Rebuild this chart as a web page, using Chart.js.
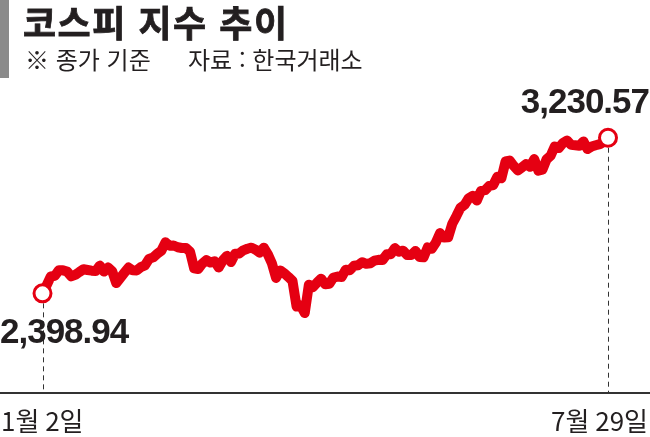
<!DOCTYPE html>
<html lang="ko">
<head>
<meta charset="utf-8">
<script src="https://cdn.jsdelivr.net/npm/chart.js@4.4.1/dist/chart.umd.min.js"></script>
<style>
    html, body { margin: 0; padding: 0; background: #fff; }
    #wrap { position: relative; width: 650px; height: 437px; overflow: hidden; }
    #chartBox { position: absolute; left: 0; top: 0; width: 650px; height: 437px; }
    #bar { position: absolute; left: 0; top: 0; width: 9px; height: 78px; background: #8a8a8a; }
    .txt { position: absolute; font-family: "Noto Sans CJK KR", sans-serif; line-height: 1; color: #231f20; white-space: pre; z-index: 2; }
    #title { left: 23px; top: 3px; font-size: 36px; font-weight: 700; letter-spacing: 1.5px; -webkit-text-stroke: 0.8px #231f20; }
    #sub1 { left: 25px; top: 47px; font-size: 24px; }
    #sub2 { left: 188px; top: 47px; font-size: 24px; }
</style>
</head>
<body>
<div id="wrap">
    <div id="chartBox"><canvas id="myChart"></canvas></div>
    <div id="bar"></div>
    <div class="txt" id="title">코스피 지수 추이</div>
    <div class="txt" id="sub1">※ 종가 기준</div>
    <div class="txt" id="sub2">자료 : 한국거래소</div>
</div>
<script>
// trading days, 2025
const dates = [
    '1/2', '1/3', '1/6', '1/7', '1/8', '1/9', '1/10', '1/13', '1/14', '1/15', '1/16', '1/17', '1/20', '1/21', '1/22', '1/23', '1/24', '1/31',
    '2/3', '2/4', '2/5', '2/6', '2/7', '2/10', '2/11', '2/12', '2/13', '2/14', '2/17', '2/18', '2/19', '2/20', '2/21', '2/24', '2/25', '2/26', '2/27', '2/28',
    '3/4', '3/5', '3/6', '3/7', '3/10', '3/11', '3/12', '3/13', '3/14', '3/17', '3/18', '3/19', '3/20', '3/21', '3/24', '3/25', '3/26', '3/27', '3/28', '3/31',
    '4/1', '4/2', '4/3', '4/4', '4/7', '4/8', '4/9', '4/10', '4/11', '4/14', '4/15', '4/16', '4/17', '4/18', '4/21', '4/22', '4/23', '4/24', '4/25', '4/28', '4/29', '4/30',
    '5/2', '5/7', '5/8', '5/9', '5/12', '5/13', '5/14', '5/15', '5/16', '5/19', '5/20', '5/21', '5/22', '5/23', '5/26', '5/27', '5/28', '5/29', '5/30',
    '6/2', '6/4', '6/5', '6/9', '6/10', '6/11', '6/12', '6/13', '6/16', '6/17', '6/18', '6/19', '6/20', '6/23', '6/24', '6/25', '6/26', '6/27', '6/30',
    '7/1', '7/2', '7/3', '7/4', '7/7', '7/8', '7/9', '7/10', '7/11', '7/14', '7/15', '7/16', '7/17', '7/18', '7/21', '7/22', '7/23', '7/24', '7/25', '7/28', '7/29'
]

// closing index
const kospi = [
    2398.94, 2441.92, 2488.64, 2492.10, 2521.90, 2521.90, 2515.78, 2489.56, 2497.40, 2513.04, 2527.49, 2523.55, 2520.05, 2518.03, 2547.06, 2515.36, 2536.80, 2517.37,
    2453.95, 2481.69, 2509.27, 2536.75, 2521.92, 2521.27, 2539.05, 2548.39, 2583.17, 2591.05, 2610.42, 2626.81, 2671.52, 2653.29, 2654.58, 2645.27, 2641.09, 2641.50, 2621.75, 2532.78,
    2528.85, 2558.13, 2576.16, 2563.48, 2570.39, 2537.60, 2574.82, 2599.16, 2566.36, 2610.69, 2612.34, 2628.62, 2637.10, 2643.13, 2632.19, 2616.80, 2643.13, 2607.15, 2557.98, 2481.12,
    2521.39, 2505.86, 2486.70, 2465.42, 2328.20, 2334.23, 2293.70, 2445.06, 2432.72, 2455.89, 2477.41, 2447.34, 2450.15, 2483.42, 2488.42, 2486.64, 2525.56, 2522.33, 2546.30, 2548.86, 2565.42, 2556.61,
    2559.79, 2573.80, 2578.30, 2577.27, 2607.33, 2608.42, 2640.57, 2621.01, 2626.87, 2603.42, 2603.80, 2625.58, 2593.67, 2592.09, 2644.40, 2637.22, 2670.24, 2720.64, 2697.67,
    2698.97, 2770.84, 2812.05, 2855.77, 2871.85, 2907.04, 2920.03, 2894.62, 2946.66, 2950.30, 2972.74, 2977.74, 3021.84, 3014.47, 3103.64, 3108.63, 3079.56, 3055.94, 3071.70,
    3089.65, 3075.06, 3116.27, 3054.28, 3059.47, 3114.95, 3133.74, 3183.23, 3175.77, 3202.03, 3215.28, 3192.29, 3190.45, 3188.07, 3210.81, 3169.94, 3183.77, 3190.27, 3196.05, 3209.52, 3230.57
]

// labels under the axis
const edgeLabels = ['1월 2일', '7월 29일']

const RED = '#e50012'
const INK = '#231f20'
const last = kospi.length - 1

function fmt(v) {
    return v.toLocaleString('en-US', { minimumFractionDigits: 2, maximumFractionDigits: 2 })
}

// baseline, dashed guides, value & date labels
const decor = {
    id: 'decor',
    beforeDatasetsDraw(chart) {
        const ctx = chart.ctx
        const meta = chart.getDatasetMeta(0)
        const p0 = meta.data[0]
        const p1 = meta.data[last]
        const baseY = 392

        ctx.save()
        ctx.fillStyle = '#333'
        ctx.fillRect(0, baseY, chart.width, 2)

        ctx.strokeStyle = '#333'
        ctx.lineWidth = 1
        ctx.setLineDash([5, 4])
        for (const p of [p0, p1]) {
            const x = Math.round(p.x) + 0.5
            ctx.beginPath()
            ctx.moveTo(x, p.y + 10)
            ctx.lineTo(x, baseY)
            ctx.stroke()
        }
        ctx.restore()
    },
    afterDraw(chart) {
        const ctx = chart.ctx
        const meta = chart.getDatasetMeta(0)
        const p0 = meta.data[0]
        const p1 = meta.data[last]

        ctx.save()
        ctx.fillStyle = INK
        ctx.textBaseline = 'alphabetic'
        ctx.font = 'bold 35px "Liberation Sans", Arial, sans-serif'
        ctx.letterSpacing = '-1px'
        ctx.textAlign = 'left'
        ctx.fillText(fmt(kospi[0]), 0, p0.y + 50)
        ctx.textAlign = 'right'
        ctx.fillText(fmt(kospi[last]), chart.width - 1, p1.y - 25)

        ctx.letterSpacing = '0px'
        ctx.font = '26px "Noto Sans CJK KR", sans-serif'
        ctx.textAlign = 'left'
        ctx.fillText(edgeLabels[0], 1, 431)
        ctx.textAlign = 'right'
        ctx.fillText(edgeLabels[1], chart.width - 2, 431)
        ctx.restore()
    }
}

const data = {
    labels: dates,
    datasets: [{
        label: '코스피',
        data: kospi,
        borderColor: RED,
        borderWidth: 10,
        borderJoinStyle: 'round',
        borderCapStyle: 'round',
        tension: 0,
        pointRadius: ctx => (ctx.dataIndex === 0 || ctx.dataIndex === last) ? 8.5 : 0,
        pointBorderWidth: 3,
        pointBorderColor: RED,
        pointBackgroundColor: '#fff'
    }]
}

const config = {
    type: 'line',
    data: data,
    options: {
        responsive: true,
        maintainAspectRatio: false,
        animation: false,
        events: [],
        layout: { padding: { left: 42.5, right: 42, top: 106, bottom: 69 } },
        plugins: {
            legend: { display: false },
            tooltip: { enabled: false }
        },
        scales: {
            x: { display: false, offset: false },
            y: { display: false, min: 2000, max: 3400 }
        }
    },
    plugins: [decor]
}

const myChart = new Chart(document.getElementById('myChart'), config)
</script>
</body>
</html>
